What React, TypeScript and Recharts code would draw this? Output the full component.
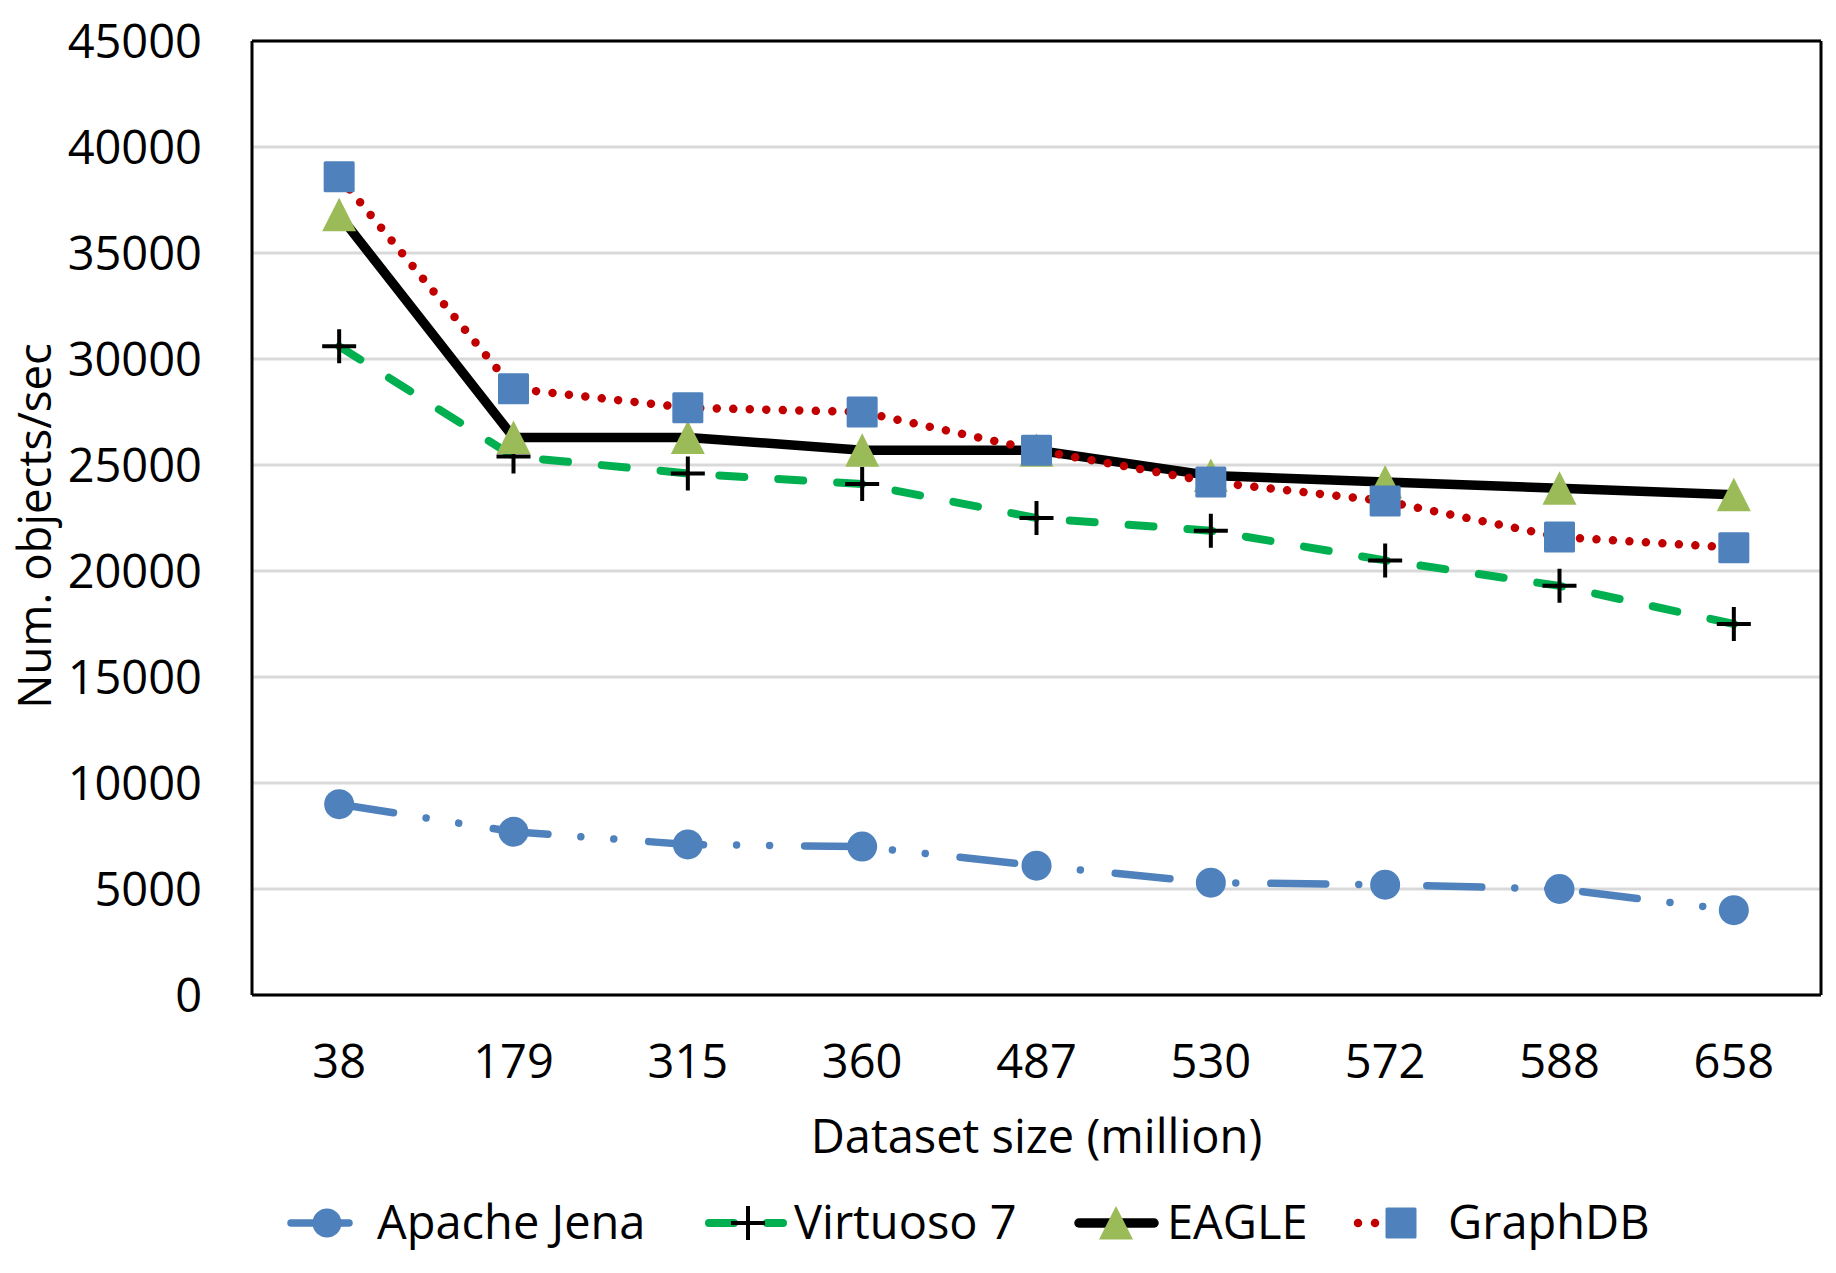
import React from 'react';
import { LineChart, Line, XAxis, YAxis, CartesianGrid } from 'recharts';

const datasetSizes = ['38', '179', '315', '360', '487', '530', '572', '588', '658'];
const apacheJena = [9000, 7700, 7100, 7000, 6100, 5300, 5200, 5000, 4000];
const virtuoso7 = [30600, 25400, 24600, 24100, 22500, 21900, 20500, 19300, 17500];
const eagle = [36800, 26300, 26300, 25700, 25700, 24500, 24200, 23900, 23600];
const graphDB = [38600, 28600, 27700, 27500, 25700, 24200, 23300, 21600, 21100];
const yTicks = [0, 5000, 10000, 15000, 20000, 25000, 30000, 35000, 40000, 45000];

const data = datasetSizes.map((size, i) => ({
  size,
  jena: apacheJena[i],
  virtuoso: virtuoso7[i],
  eagle: eagle[i],
  graphdb: graphDB[i],
}));

const FONT = "'Open Sans', sans-serif";
const FS = 47;
const BLUE = '#4F81BD';
const GREEN = '#00B050';
const RED = '#C00000';
const OLIVE = '#9BBB59';

const circleDot = (p: any) => (
  <circle key={`j${p.index}`} cx={p.cx} cy={p.cy} r={15} fill={BLUE} />
);
const plusDot = (p: any) => (
  <path
    key={`v${p.index}`}
    d={`M${p.cx - 17},${p.cy}H${p.cx + 17}M${p.cx},${p.cy - 17}V${p.cy + 17}`}
    stroke="#000"
    strokeWidth={4}
    fill="none"
  />
);
const triDot = (p: any) => (
  <path
    key={`e${p.index}`}
    d={`M${p.cx},${p.cy - 17}L${p.cx + 17},${p.cy + 16.5}L${p.cx - 17},${p.cy + 16.5}Z`}
    fill={OLIVE}
  />
);
const squareDot = (p: any) => (
  <rect key={`g${p.index}`} x={p.cx - 15.5} y={p.cy - 15.5} width={31} height={31} fill={BLUE} rx={1.5} />
);

const XTitle = (props: any) => {
  const vb = props.viewBox || { x: 244, y: 987, width: 1569, height: 278 };
  return (
    <text x={vb.x + vb.width / 2} y={vb.y + 158} textAnchor="middle" fill="#000" fontSize={FS} fontFamily={FONT}>
      Dataset size (million)
    </text>
  );
};

const YTitle = (props: any) => {
  const vb = props.viewBox || { x: 0, y: 33, width: 244, height: 954 };
  const cx = vb.x + 27;
  const cy = vb.y + vb.height / 2 + 8;
  return (
    <text
      x={cx}
      y={cy}
      dy={16}
      transform={`rotate(-90, ${cx}, ${cy})`}
      textAnchor="middle"
      fill="#000"
      fontSize={45.5}
      fontFamily={FONT}
    >
      Num. objects/sec
    </text>
  );
};

const LegendOverlay = () => {
  const cy = 1215;
  const textY = 1231;
  const textProps = { fill: '#000', fontSize: FS, fontFamily: FONT };
  return (
    <svg
      width={1828}
      height={1265}
      style={{ position: 'absolute', left: 0, top: 0, pointerEvents: 'none' }}
    >
      {/* Apache Jena */}
      <line x1={283} y1={cy} x2={341} y2={cy} stroke={BLUE} strokeWidth={7.5} strokeLinecap="round" />
      <circle cx={319} cy={cy} r={14.5} fill={BLUE} />
      <text x={369} y={textY} {...textProps}>Apache Jena</text>
      {/* Virtuoso 7 */}
      <line x1={701} y1={cy} x2={726} y2={cy} stroke={GREEN} strokeWidth={8} strokeLinecap="round" />
      <line x1={759} y1={cy} x2={775} y2={cy} stroke={GREEN} strokeWidth={8} strokeLinecap="round" />
      <path d={`M${740 - 17},${cy}H${740 + 17}M740,${cy - 17}V${cy + 17}`} stroke="#000" strokeWidth={4} fill="none" />
      <text x={786} y={textY} {...textProps}>Virtuoso 7</text>
      {/* EAGLE */}
      <line x1={1071} y1={cy} x2={1146} y2={cy} stroke="#000" strokeWidth={9.5} strokeLinecap="round" />
      <path d={`M1108,${cy - 17}L1125,${cy + 16.5}L1091,${cy + 16.5}Z`} fill={OLIVE} />
      <text x={1159} y={textY} {...textProps}>EAGLE</text>
      {/* GraphDB */}
      <line x1={1350} y1={cy} x2={1418} y2={cy} stroke={RED} strokeWidth={8.5} strokeLinecap="round" strokeDasharray="0.01 17" />
      <rect x={1393 - 15.5} y={cy - 15.5} width={31} height={31} fill={BLUE} rx={1.5} />
      <text x={1440} y={textY} {...textProps}>GraphDB</text>
    </svg>
  );
};

export default function App() {
  const tickStyle = { fill: '#000', fontSize: FS, fontFamily: FONT };
  const axisLine = { stroke: '#000', strokeWidth: 3 };
  return (
    <div style={{ position: 'relative', width: 1828, height: 1265, background: '#fff' }}>
      <LineChart
        width={1828}
        height={1265}
        data={data}
        margin={{ top: 32, right: 14, bottom: 0, left: 0 }}
      >
        <CartesianGrid vertical={false} stroke="#D9D9D9" strokeWidth={3} />
        <XAxis
          dataKey="size"
          scale="band"
          height={278}
          tickSize={0}
          tickMargin={50}
          tickLine={false}
          axisLine={axisLine}
          tick={tickStyle}
          interval={0}
          label={<XTitle />}
        />
        <XAxis
          xAxisId="top"
          dataKey="size"
          scale="band"
          orientation="top"
          height={1}
          tick={false}
          tickLine={false}
          axisLine={axisLine}
        />
        <YAxis
          domain={[0, 45000]}
          ticks={yTicks}
          width={244}
          tickSize={0}
          tickMargin={50}
          tickLine={false}
          axisLine={axisLine}
          tick={tickStyle}
          interval={0}
          label={<YTitle />}
        />
        <YAxis
          yAxisId="right"
          orientation="right"
          width={1}
          domain={[0, 45000]}
          tick={false}
          tickLine={false}
          axisLine={axisLine}
        />
        <Line
          dataKey="jena"
          name="Apache Jena"
          stroke={BLUE}
          strokeWidth={7.5}
          strokeDasharray="55 33 0.01 33 0.01 35"
          strokeLinecap="round"
          dot={circleDot}
          activeDot={false}
          isAnimationActive={false}
        />
        <Line
          dataKey="virtuoso"
          name="Virtuoso 7"
          stroke={GREEN}
          strokeWidth={8}
          strokeDasharray="25 34"
          strokeLinecap="round"
          dot={plusDot}
          activeDot={false}
          isAnimationActive={false}
        />
        <Line
          dataKey="eagle"
          name="EAGLE"
          stroke="#000"
          strokeWidth={9.5}
          strokeLinejoin="round"
          dot={triDot}
          activeDot={false}
          isAnimationActive={false}
        />
        <Line
          dataKey="graphdb"
          name="GraphDB"
          stroke={RED}
          strokeWidth={8.5}
          strokeDasharray="0.01 16.5"
          strokeLinecap="round"
          dot={squareDot}
          activeDot={false}
          isAnimationActive={false}
        />
      </LineChart>
      <LegendOverlay />
    </div>
  );
}
